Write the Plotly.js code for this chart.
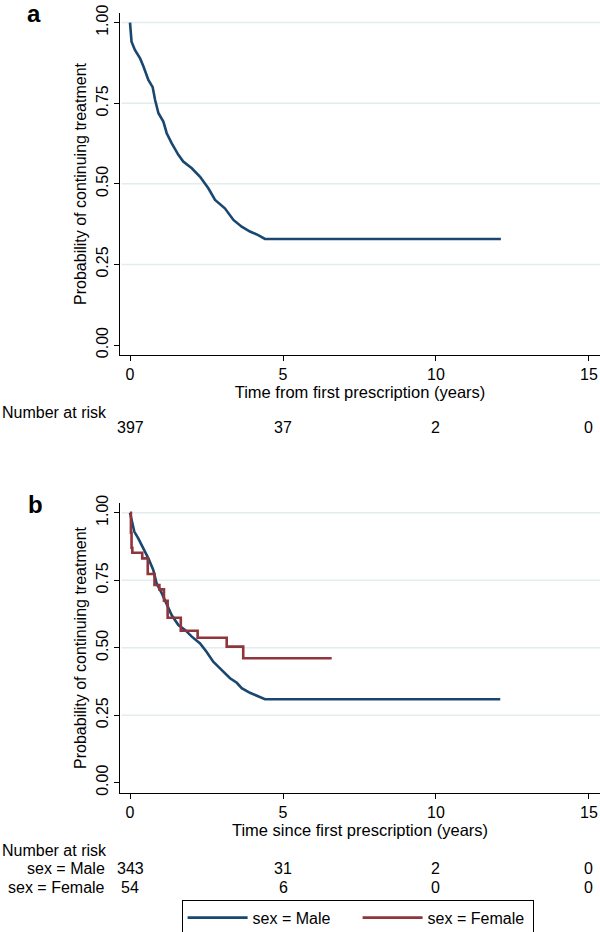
<!DOCTYPE html>
<html>
<head>
<meta charset="utf-8">
<script src="https://cdn.plot.ly/plotly-3.0.1.min.js"></script>
<style>html,body{margin:0;padding:0;background:#fff;}#chart{width:600px;height:932px;}</style>
</head>
<body>
<div id="chart"></div>
<script>
// Panel a: all patients (Kaplan-Meier estimate)
const timeA = [0, 0.05, 0.16, 0.33, 0.44, 0.60, 0.74, 0.82, 0.93, 1.09, 1.20, 1.36, 1.58, 1.74, 2.02, 2.29, 2.56, 2.78, 3.10, 3.38, 3.65, 3.92, 4.19, 4.41, 12.12];
const survA = [1.00, 0.941, 0.915, 0.889, 0.864, 0.822, 0.800, 0.760, 0.719, 0.693, 0.657, 0.626, 0.590, 0.569, 0.548, 0.522, 0.486, 0.450, 0.424, 0.388, 0.367, 0.352, 0.341, 0.329, 0.329];

// Panel b: by sex
const timeMale = [0, 0.08, 0.14, 0.27, 0.44, 0.60, 0.76, 0.87, 1.04, 1.20, 1.36, 1.58, 1.80, 2.02, 2.29, 2.50, 2.72, 3.00, 3.27, 3.49, 3.65, 3.92, 4.19, 4.41, 12.10];
const survMale = [1.00, 0.961, 0.930, 0.905, 0.868, 0.831, 0.788, 0.738, 0.701, 0.664, 0.621, 0.584, 0.566, 0.541, 0.516, 0.485, 0.448, 0.417, 0.387, 0.370, 0.350, 0.333, 0.321, 0.309, 0.309];
const timeFemale = [0, 0.03, 0.05, 0.076, 0.40, 0.58, 0.80, 0.96, 1.11, 1.23, 1.66, 2.21, 3.16, 3.70, 6.59];
const survFemale = [1.00, 0.926, 0.870, 0.852, 0.831, 0.773, 0.732, 0.716, 0.674, 0.611, 0.563, 0.537, 0.504, 0.461, 0.461];

// Axis ticks
const xTicks = [0, 5, 10, 15];
const yTicks = [0, 0.25, 0.5, 0.75, 1];
const yTickText = ['0.00', '0.25', '0.50', '0.75', '1.00'];
const gridVals = [0.25, 0.5, 0.75, 1];

// Number at risk tables
const riskA = ['397', '37', '2', '0'];
const riskMale = ['343', '31', '2', '0'];
const riskFemale = ['54', '6', '0', '0'];

const blue = '#1a476f';
const red = '#90353b';
const FONT = 'Liberation Sans, Arial, Helvetica, sans-serif';

const traces = [
  {x: timeA, y: survA, xaxis: 'x', yaxis: 'y', mode: 'lines', line: {color: blue, width: 2.6, shape: 'linear'}, showlegend: false, hoverinfo: 'skip'},
  {x: timeMale, y: survMale, xaxis: 'x2', yaxis: 'y2', mode: 'lines', name: 'sex = Male', line: {color: blue, width: 2.6, shape: 'linear'}, hoverinfo: 'skip'},
  {x: timeFemale, y: survFemale, xaxis: 'x2', yaxis: 'y2', mode: 'lines', name: 'sex = Female', line: {color: red, width: 2.6, shape: 'hv'}, hoverinfo: 'skip'}
];

function xAxis(title, anchor) {
  return {
    domain: [0.2, 1], range: [-0.327, 15.36], anchor: anchor, automargin: false,
    tickmode: 'array', tickvals: xTicks, ticktext: xTicks.map(String),
    ticks: 'outside', ticklen: 5, tickwidth: 1, tickcolor: '#000',
    showline: true, linecolor: '#000', linewidth: 1,
    showgrid: false, zeroline: false,
    tickfont: {size: 16, color: '#000'},
    title: {text: title, standoff: 2, font: {size: 16.5, color: '#000'}}
  };
}
function yAxis(domain, range, anchor) {
  return {
    domain: domain, range: range, anchor: anchor, automargin: false,
    tickmode: 'array', tickvals: yTicks, ticktext: yTickText, tickangle: -90,
    ticks: 'outside', ticklen: 5, tickwidth: 1, tickcolor: '#000',
    showline: true, linecolor: '#000', linewidth: 1,
    showgrid: false, zeroline: false,
    tickfont: {size: 16, color: '#000'},
    title: {text: 'Probability of continuing treatment', standoff: 2, font: {size: 16, color: '#000'}}
  };
}

const shapes = [];
[['x', 'y'], ['x2', 'y2']].forEach(([xa, ya]) => {
  gridVals.forEach(v => shapes.push({type: 'line', xref: xa + ' domain', yref: ya, x0: 0.003, x1: 1, y0: v, y1: v, line: {color: '#e3ecee', width: 1.5}, layer: 'below'}));
});

const annotations = [];
function ann(text, x, xref, ypx, xanchor, extra) {
  annotations.push(Object.assign({text: text, x: x, xref: xref, y: 1 - ypx / 932, yref: 'paper', xanchor: xanchor, yanchor: 'middle', showarrow: false, font: {size: 16, color: '#000'}}, extra || {}));
}
ann('<b>a</b>', 34 / 600, 'paper', 14, 'center', {font: {size: 24, color: '#000'}});
ann('<b>b</b>', 35 / 600, 'paper', 504, 'center', {font: {size: 24, color: '#000'}});
ann('Number at risk', 0, 'paper', 412, 'left');
xTicks.forEach((t, i) => ann(riskA[i], t, 'x', 428, 'center'));
ann('Number at risk', 0, 'paper', 850, 'left');
ann('sex = Male', 107 / 600, 'paper', 868, 'right');
ann('sex = Female', 107 / 600, 'paper', 887, 'right');
xTicks.forEach((t, i) => ann(riskMale[i], t, 'x2', 868, 'center'));
xTicks.forEach((t, i) => ann(riskFemale[i], t, 'x2', 887, 'center'));

const layout = {
  width: 600, height: 932,
  margin: {l: 0, r: 0, t: 0, b: 0, autoexpand: false},
  paper_bgcolor: '#fff', plot_bgcolor: '#fff',
  font: {family: FONT, size: 16, color: '#000'},
  xaxis: xAxis('Time from first prescription (years)', 'y'),
  yaxis: yAxis([0.6191, 0.9861], [-0.031, 1.030], 'x'),
  xaxis2: xAxis('Time since first prescription (years)', 'y2'),
  yaxis2: yAxis([0.1495, 0.4600], [-0.037, 1.035], 'x2'),
  shapes: shapes,
  annotations: annotations,
  showlegend: true,
  legend: {
    orientation: 'h', x: 0.596, xanchor: 'center', y: -0.004, yanchor: 'bottom',
    bordercolor: '#000', borderwidth: 1, bgcolor: '#fff',
    font: {size: 16, color: '#000'}, itemwidth: 60, tracegroupgap: 0,
    entrywidth: 100, entrywidthmode: 'pixels'
  }
};

Plotly.newPlot('chart', traces, layout, {staticPlot: true, displayModeBar: false});
</script>
</body>
</html>
